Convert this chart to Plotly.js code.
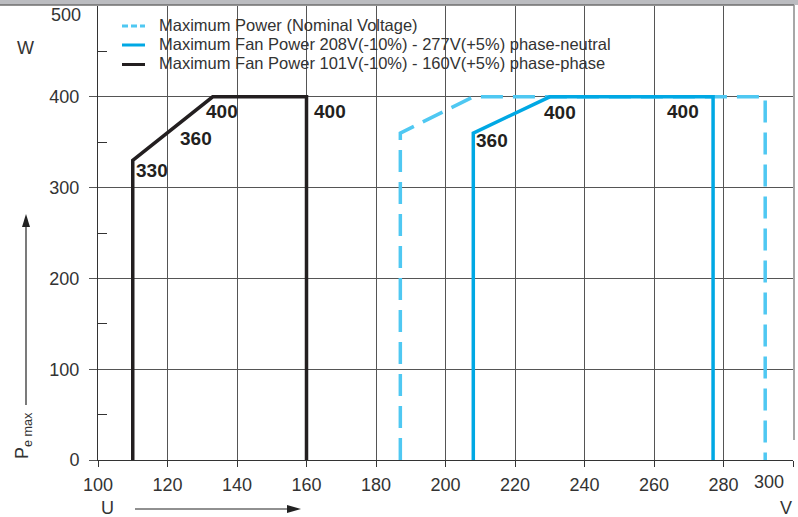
<!DOCTYPE html>
<html>
<head>
<meta charset="utf-8">
<script src="https://cdn.plot.ly/plotly-3.0.1.min.js"></script>
<style>html,body{margin:0;padding:0;background:#fff;}#chart{width:798px;height:517px;}</style>
</head>
<body>
<div id="chart"></div>
<script>
// ---- data ----
const seriesNames = [
  "Maximum Power (Nominal Voltage)",
  "Maximum Fan Power 208V(-10%) - 277V(+5%) phase-neutral",
  "Maximum Fan Power 101V(-10%) - 160V(+5%) phase-phase"
];
const voltsNominal = [187, 187, 208, 292, 292];
const powerNominal = [0, 360, 400, 400, 0];
const voltsPhaseNeutral = [208, 208, 230, 277, 277];
const powerPhaseNeutral = [0, 360, 400, 400, 0];
const voltsPhasePhase = [110, 110, 133, 160, 160];
const powerPhasePhase = [0, 330, 400, 400, 0];

// value labels (voltage, power)
const labelVolts = [110, 120, 133, 160, 208, 230, 277];
const labelPower = [330, 360, 400, 400, 360, 400, 400];

const xTickVals = [100, 120, 140, 160, 180, 200, 220, 240, 260, 280, 300];
const yTickVals = [0, 100, 200, 300, 400, 500];

// ---- styling ----
const colNominal = "#4fc8f2";
const colPN = "#00a8e4";
const colPP = "#231f20";
const txt = "#333333";
const sans = "'Liberation Sans', Arimo, Arial, sans-serif";
const tickFont = {family: sans, size: 18, color: txt};
const labelOffsets = [[19, 10], [28, 5], [9, 15], [23, 15], [19, 7], [10, 16], [-30, 15]];

const traces = [
  {x: voltsNominal, y: powerNominal, name: seriesNames[0], mode: "lines",
   line: {color: colNominal, width: 3.5, dash: "22px,10px"}},
  {x: voltsPhaseNeutral, y: powerPhaseNeutral, name: seriesNames[1], mode: "lines",
   line: {color: colPN, width: 3.5}},
  {x: voltsPhasePhase, y: powerPhasePhase, name: seriesNames[2], mode: "lines",
   line: {color: colPP, width: 3.5}}
];

const L = 98, R = 5, T = 6, B = 57, W = 798, H = 517;
const PW = W - L - R, PH = H - T - B;
const px = v => (v - L) / PW;          // page x -> paper
const py = v => (H - B - v) / PH;      // page y -> paper

const annotations = labelVolts.map((v, i) => ({
  x: v, y: labelPower[i], xref: "x", yref: "y", text: String(labelPower[i]),
  showarrow: false, xanchor: "center", yanchor: "middle",
  xshift: labelOffsets[i][0], yshift: -labelOffsets[i][1],
  font: {family: sans, size: 19, color: "#231f20", weight: 600}
}));

// manual legend
const legendColors = [colNominal, colPN, colPP];
const legendDash = ["6px,3px", "solid", "solid"];
const legendRowY = [24.5, 43.5, 63];
const shapes = [
  {type: "rect", xref: "paper", yref: "paper", x0: px(109), x1: 1, y0: py(78), y1: 1.02,
   fillcolor: "#ffffff", line: {width: 0}, layer: "below"},
  {type: "rect", xref: "paper", yref: "paper", x0: px(0), x1: px(W), y0: py(5), y1: py(-2),
   fillcolor: "#bbbcc0", line: {width: 0}, layer: "above"},
  {type: "line", xref: "paper", yref: "paper", x0: px(0), x1: px(794), y0: py(5), y1: py(5),
   line: {color: "#6e6e6e", width: 1.5}, layer: "above"},
  {type: "line", xref: "paper", yref: "paper", x0: px(794), x1: px(794), y0: py(5), y1: py(440),
   line: {color: "#8a8a8a", width: 1.5}, layer: "above"},
  // axis direction arrows
  {type: "line", xref: "paper", yref: "paper", x0: px(26), x1: px(26), y0: py(405), y1: py(224),
   line: {color: "#222", width: 1.2}},
  {type: "path", xref: "paper", yref: "paper",
   path: `M${px(26)},${py(214)} L${px(22)},${py(227)} L${px(30)},${py(227)} Z`,
   fillcolor: "#222", line: {width: 0}},
  {type: "line", xref: "paper", yref: "paper", x0: px(135), x1: px(290), y0: py(509), y1: py(509),
   line: {color: "#222", width: 1.2}},
  {type: "path", xref: "paper", yref: "paper",
   path: `M${px(301)},${py(509)} L${px(287)},${py(505)} L${px(287)},${py(513)} Z`,
   fillcolor: "#222", line: {width: 0}}
];
seriesNames.forEach((n, i) => {
  shapes.push({type: "line", xref: "paper", yref: "paper",
    x0: px(122), x1: px(145), y0: py(legendRowY[i] + 1.5), y1: py(legendRowY[i] + 1.5),
    line: {color: legendColors[i], width: 3, dash: legendDash[i]}});
  annotations.push({xref: "paper", yref: "paper", x: px(157), y: py(legendRowY[i]),
    text: n, showarrow: false, xanchor: "left", yanchor: "middle",
    font: {family: sans, size: 16.5, color: txt}});
});

const lastX = xTickVals[xTickVals.length - 1];
const lastY = yTickVals[yTickVals.length - 1];

annotations.push(
  {xref: "paper", yref: "paper", x: px(25), y: py(48), text: "W", showarrow: false,
   xanchor: "center", yanchor: "middle", font: {family: sans, size: 18, color: txt}},
  {xref: "paper", yref: "paper", x: px(23), y: py(436), text: "P<sub>e max</sub>", showarrow: false,
   textangle: -90, xanchor: "center", yanchor: "middle", font: {family: sans, size: 18, color: txt}},
  {xref: "paper", yref: "paper", x: px(107), y: py(508), text: "U", showarrow: false,
   xanchor: "center", yanchor: "middle", font: {family: sans, size: 18, color: txt}},
  {xref: "paper", yref: "paper", x: px(786), y: py(508), text: "V", showarrow: false,
   xanchor: "center", yanchor: "middle", font: {family: sans, size: 18, color: txt}},
  // edge tick labels, nudged inside the frame as in the reference
  {xref: "paper", yref: "y", x: px(83), y: lastY, yshift: -9, text: String(lastY), showarrow: false,
   xanchor: "right", yanchor: "middle", font: tickFont},
  {xref: "x", yref: "paper", x: lastX, xshift: -24, y: py(482), text: String(lastX), showarrow: false,
   xanchor: "center", yanchor: "middle", font: tickFont}
);

const layout = {
  width: W, height: H,
  margin: {l: L, r: R, t: T, b: B},
  paper_bgcolor: "#ffffff", plot_bgcolor: "#ffffff",
  showlegend: false,
  xaxis: {
    range: [100, 300], tickvals: xTickVals.slice(0, -1),
    showgrid: true, gridcolor: "#555555", gridwidth: 1,
    zeroline: false, showline: true, linecolor: "#333", linewidth: 1,
    ticks: "outside", ticklen: 6, tickcolor: "#333", tickfont: tickFont, ticklabelstandoff: 2,
    minor: {tickvals: [lastX], ticks: "outside", ticklen: 6, tickcolor: "#333", showgrid: false}
  },
  yaxis: {
    range: [0, 500], tickvals: yTickVals.slice(0, -1),
    showgrid: true, gridcolor: "#555555", gridwidth: 1,
    zeroline: false, showline: true, linecolor: "#333", linewidth: 1,
    ticks: "outside", ticklen: 8, tickcolor: "#555", tickfont: tickFont, ticklabelstandoff: 6,
    minor: {tickvals: [50, 150, 250, 350, 450], ticks: "inside", ticklen: 9, tickcolor: "#333", showgrid: false}
  },
  shapes: shapes,
  annotations: annotations
};

Plotly.newPlot("chart", traces, layout, {staticPlot: true});
</script>
</body>
</html>
